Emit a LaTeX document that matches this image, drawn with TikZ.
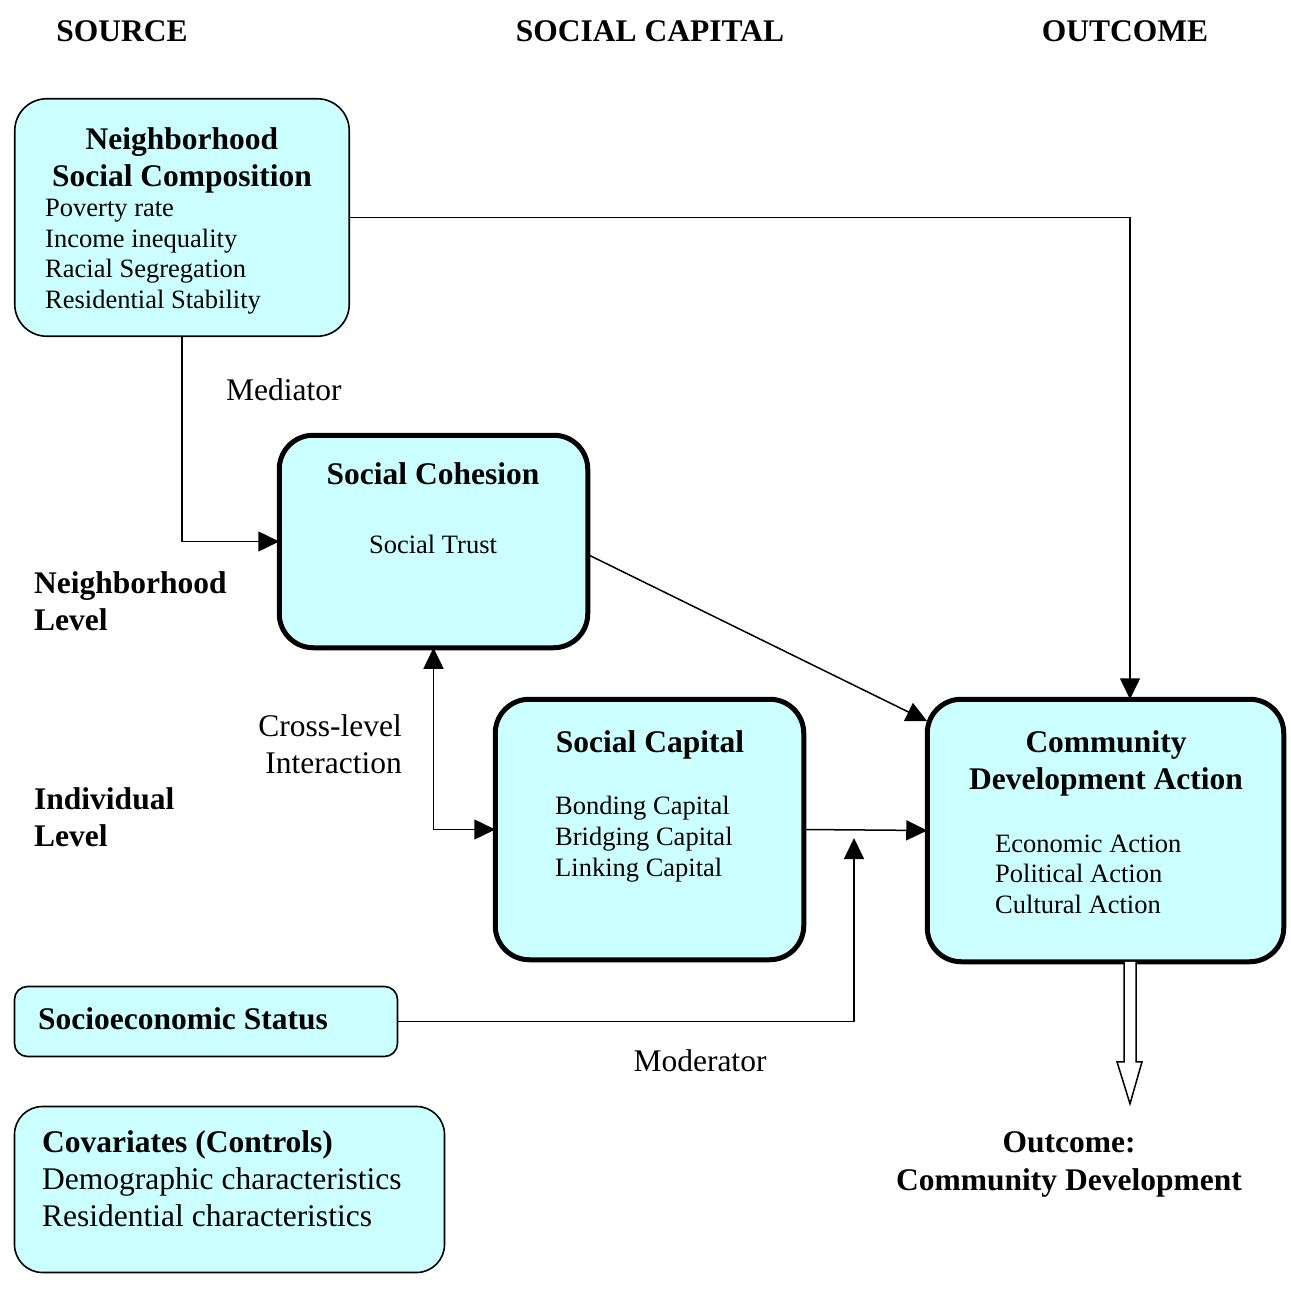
\documentclass[tikz,border=0pt]{standalone}
\usepackage{fontspec}
\setmainfont{Liberation Serif}
\usetikzlibrary{arrows.meta}
\definecolor{boxfill}{HTML}{CCFFFF}
\begin{document}
\begin{tikzpicture}[x=1pt,y=-1pt,
  thinbox/.style={draw, line width=1.6pt, fill=boxfill, rounded corners=#1, inner sep=0pt, outer sep=0pt},
  thickbox/.style={draw, line width=5pt, fill=boxfill, rounded corners=34pt, inner sep=0pt, outer sep=0pt},
  headtext/.style={font=\bfseries\fontsize{31.5}{37}\selectfont, inner sep=0pt},
  plaintext/.style={font=\fontsize{31.5}{37}\selectfont, inner sep=0pt},
  bodytext/.style={font=\fontsize{26.5}{30.5}\selectfont, inner sep=0pt, anchor=base west},
  link/.style={line width=1.5pt, -{Triangle[length=21pt,width=20pt]}},
]
\useasboundingbox (0,0) rectangle (1291,1289);

% column headers
\node[headtext, anchor=base] (hsrc) at (122,42) {SOURCE};
\node[headtext, anchor=base] (hsc) at (650,42) {SOCIAL CAPITAL};
\node[headtext, anchor=base] (hout) at (1125,42) {OUTCOME};

% boxes
\node[thinbox=32pt, minimum width=334.5pt, minimum height=237.5pt] (nsc) at (182,217.5) {};
\node[thickbox, minimum width=308.5pt, minimum height=212.5pt] (coh) at (433.5,541.5) {};
\node[thickbox, minimum width=308.5pt, minimum height=260.5pt] (scap) at (649.5,829.5) {};
\node[thickbox, minimum width=356.5pt, minimum height=262.5pt] (cda) at (1105.5,830.5) {};
\node[thinbox=13pt, minimum width=383pt, minimum height=70pt] (ses) at (206,1021.5) {};
\node[thinbox=28pt, minimum width=430pt, minimum height=166pt] (cov) at (229.5,1189.5) {};

% neighborhood social composition
\node[headtext, anchor=base] (nsc1) at (182,150) {Neighborhood};
\node[headtext, anchor=base] (nsc2) at (182,187) {Social Composition};
\node[bodytext] (nsc3) at (45,217) {Poverty rate};
\node[bodytext] (nsc4) at (45,247.5) {Income inequality};
\node[bodytext] (nsc5) at (45,278) {Racial Segregation};
\node[bodytext] (nsc6) at (45,308.5) {Residential Stability};

% social cohesion
\node[headtext, anchor=base] (coh1) at (433,484) {Social Cohesion};
\node[bodytext, anchor=base] (coh2) at (433,553) {Social Trust};

% social capital
\node[headtext, anchor=base] (scap1) at (650,752) {Social Capital};
\node[bodytext] (scap2) at (555,814) {Bonding Capital};
\node[bodytext] (scap3) at (555,845) {Bridging Capital};
\node[bodytext] (scap4) at (555,876) {Linking Capital};

% community development action
\node[headtext, anchor=base] (cda1) at (1106,752) {Community};
\node[headtext, anchor=base] (cda2) at (1106,789) {Development Action};
\node[bodytext] (cda3) at (995,852) {Economic Action};
\node[bodytext] (cda4) at (995,882) {Political Action};
\node[bodytext] (cda5) at (995,913) {Cultural Action};

% socioeconomic status and covariates
\node[headtext, anchor=base west] (ses1) at (38,1029) {Socioeconomic Status};
\node[headtext, anchor=base west] (cov1) at (42,1152) {Covariates (Controls)};
\node[plaintext, anchor=base west] (cov2) at (42,1189) {Demographic characteristics};
\node[plaintext, anchor=base west] (cov3) at (42,1226) {Residential characteristics};

% free labels
\node[plaintext, anchor=base west] (med) at (226,400) {Mediator};
\node[headtext, anchor=base west] (lvn1) at (34,593) {Neighborhood};
\node[headtext, anchor=base west] (lvn2) at (34,630) {Level};
\node[plaintext, anchor=base east] (cli1) at (402,736) {Cross-level};
\node[plaintext, anchor=base east] (cli2) at (402,773) {Interaction};
\node[headtext, anchor=base west] (lvi1) at (34,809) {Individual};
\node[headtext, anchor=base west] (lvi2) at (34,846) {Level};
\node[plaintext, anchor=base] (mod) at (700,1071) {Moderator};
\node[headtext, anchor=base] (out1) at (1069,1152) {Outcome:};
\node[headtext, anchor=base] (out2) at (1069,1190) {Community Development};

% connectors
\draw[link] (nsc.east) -| ([xshift=24.5pt]cda.north);
\draw[link] (nsc.south) |- (coh.west);
\draw[link] ([yshift=-13pt]coh.east) -- ([yshift=-22pt]cda.north west);
\draw[link, {Triangle[length=21pt,width=20pt]}-{Triangle[length=21pt,width=20pt]}] (coh.south) |- (scap.west);
\draw[link] (scap.east) -- (cda.west);
\coordinate (modtip) at (854,838);
\draw[link] (ses.east) -| (modtip);

% hollow outcome arrow
\coordinate (hol) at ([xshift=24.5pt]cda.south);
\draw[line width=1.5pt, fill=white, line join=miter]
  ([xshift=-6pt]hol) -- ([xshift=-6pt,yshift=-100pt]hol) -- ([xshift=-13pt,yshift=-100pt]hol)
  -- ([yshift=-142pt]hol) -- ([xshift=12pt,yshift=-100pt]hol) -- ([xshift=6pt,yshift=-100pt]hol)
  -- ([xshift=6pt]hol);
\end{tikzpicture}
\end{document}
